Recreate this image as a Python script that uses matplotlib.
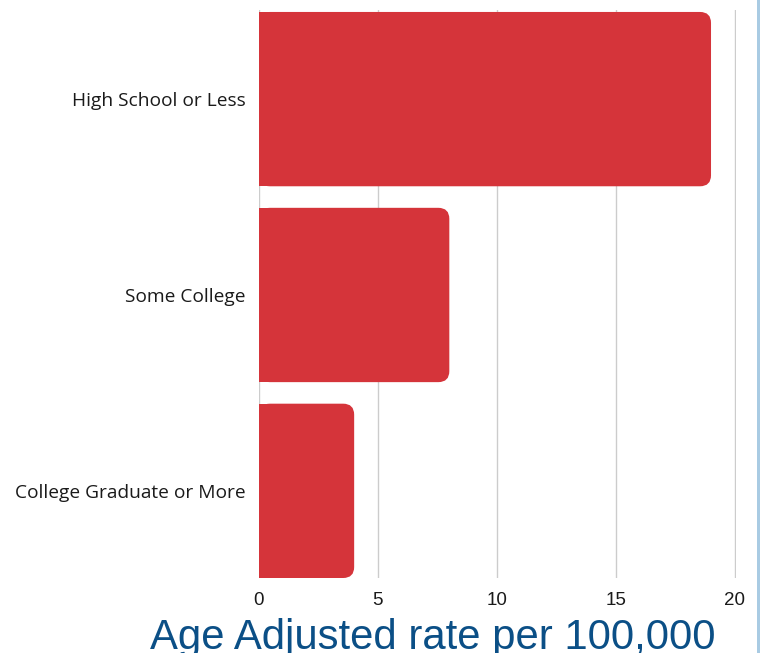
import matplotlib
matplotlib.use("Agg")
import matplotlib.pyplot as plt
from matplotlib.patches import FancyBboxPatch, Rectangle

categories = ["High School or Less", "Some College", "College Graduate or More"]
values = [19, 8, 4]
xticks = [0, 5, 10, 15, 20]
xlabel = "Age Adjusted rate per 100,000"

W, H = 760, 653
fig = plt.figure(figsize=(W / 100, H / 100), dpi=100)
fig.patch.set_facecolor("white")
ax = fig.add_axes([259 / W, (H - 578) / H, (736 - 259) / W, (578 - 10) / H])

bar_color = "#d5343a"
bh = 0.89
ax.set_xlim(0, 20.05)
ax.set_ylim(len(categories) - 1 + 0.445, -0.455)

px_x = (736 - 259) / 20.0
px_y = (578 - 10) / (len(categories) - 1 + 0.445 + 0.455)
r = 11
rx = r / px_x
ry = r / px_y
for i, v in enumerate(values):
    p = FancyBboxPatch((0, i - bh / 2), v, bh,
                       boxstyle=f"round,pad=0,rounding_size={rx}",
                       mutation_aspect=ry / rx,
                       facecolor=bar_color, edgecolor="none", zorder=3)
    ax.add_patch(p)
    ax.add_patch(Rectangle((0, i - bh / 2), v / 2, bh, facecolor=bar_color,
                           edgecolor="none", zorder=3))

ax.set_yticks(range(len(categories)))
ax.set_yticklabels(categories, fontsize=13.8, family="Open Sans", color="#1a1a1a")
ax.set_xticks(xticks)
ax.set_xticklabels([str(t) for t in xticks], fontsize=13.5, family="Liberation Sans", color="#1a1a1a")
ax.tick_params(axis="both", length=0)
ax.tick_params(axis="y", pad=9.5)
ax.tick_params(axis="x", pad=10)
for s in ax.spines.values():
    s.set_visible(False)
ax.grid(axis="x", color="#cccccc", linewidth=1, zorder=0)
ax.set_axisbelow(True)

fig.text(433 / W, 4 / H, xlabel, ha="center", va="baseline", fontsize=30.2,
         family="Liberation Sans", color="#0b4f86")

fig.add_artist(Rectangle((757 / W, 0), 3 / W, 1, transform=fig.transFigure,
                         facecolor="#a9cbe3", edgecolor="none"))

fig.savefig("out.png", dpi=100)
